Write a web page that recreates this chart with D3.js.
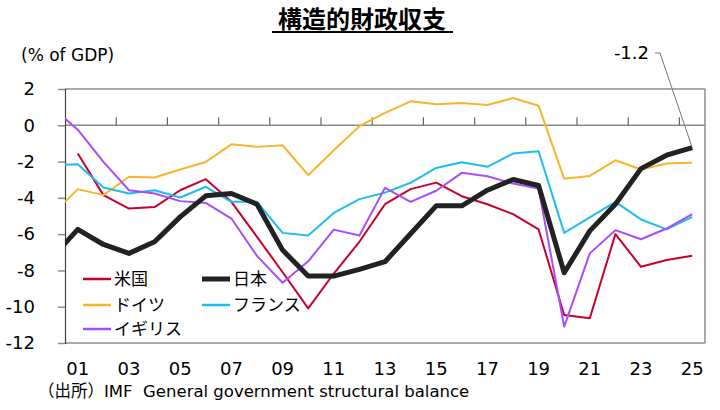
<!DOCTYPE html>
<html>
<head>
<meta charset="utf-8">
<script src="https://cdn.jsdelivr.net/npm/d3@7"></script>
<style>
  body { margin: 0; background: #fff; }
  svg { font-family: "DejaVu Sans", "Noto Sans CJK JP", sans-serif; }
</style>
</head>
<body>
<div class="chart"></div>
<script>
// data (year 2000 only feeds the clipped left edge)
const years = d3.range(2000, 2026);
const usa = [null, -1.56, -3.85, -4.59, -4.51, -3.58, -2.97, -4.22, -6.15, -8.1, -10.09, -8.17, -6.42,
  -4.35, -3.52, -3.16, -3.91, -4.35, -4.9, -5.74, -10.46, -10.64, -6.0, -7.8, -7.43, -7.19];
const japan = [-7.28, -5.74, -6.57, -7.06, -6.42, -5.05, -3.89, -3.76, -4.35, -6.88, -8.31, -8.31, -7.94,
  -7.52, -5.98, -4.44, -4.44, -3.58, -2.99, -3.32, -8.13, -5.82, -4.35, -2.39, -1.65, -1.23];
const germany = [-4.92, -3.52, -3.85, -2.84, -2.88, -2.44, -2.02, -1.05, -1.19, -1.1, -2.75, -1.38, -0.05,
  0.68, 1.32, 1.16, 1.23, 1.12, 1.5, 1.08, -2.95, -2.79, -1.93, -2.44, -2.11, -2.07];
const france = [-2.19, -2.15, -3.43, -3.76, -3.58, -3.98, -3.39, -4.22, -4.22, -5.93, -6.07, -4.83, -4.07,
  -3.71, -3.17, -2.35, -2.04, -2.29, -1.56, -1.43, -5.93, -5.08, -4.22, -5.19, -5.74, -5.05];
const uk = [0.98, -0.24, -2.02, -3.58, -3.76, -4.18, -4.28, -5.14, -7.2, -8.68, -7.5, -5.75, -6.08,
  -3.45, -4.22, -3.61, -2.62, -2.81, -3.21, -3.49, -11.1, -7.06, -5.78, -6.28, -5.69, -4.9];

const xLabels = ["01", "03", "05", "07", "09", "11", "13", "15", "17", "19", "21", "23", "25"];
const yTicks = [2, 0, -2, -4, -6, -8, -10, -12];

const series = [
  {name: "米国", values: usa, color: "#c8002d", width: 2},
  {name: "ドイツ", values: germany, color: "#f7b52c", width: 2},
  {name: "フランス", values: france, color: "#1ebcf0", width: 2},
  {name: "イギリス", values: uk, color: "#a64dff", width: 2},
  {name: "日本", values: japan, color: "#222222", width: 5}
];
const legendOrder = ["米国", "日本", "ドイツ", "フランス", "イギリス"];

const W = 720, H = 410;
const margin = {left: 65, right: 705, top: 89, bottom: 343};

const svg = d3.select(".chart").append("svg")
  .attr("width", W).attr("height", H);

const x = d3.scaleLinear().domain([2000.5, 2025.5]).range([margin.left, margin.right]);
const y = d3.scaleLinear().domain([-12, 2]).range([margin.bottom, margin.top]);

// title
svg.append("text")
  .attr("x", 362).attr("y", 28)
  .attr("text-anchor", "middle")
  .style("font-family", "'Noto Sans CJK JP', sans-serif")
  .style("font-size", "24px").style("font-weight", "bold")
  .text("構造的財政収支");
svg.append("line")
  .attr("x1", 272).attr("x2", 453).attr("y1", 32).attr("y2", 32)
  .attr("stroke", "#000").attr("stroke-width", 2);

svg.append("text")
  .attr("x", 21).attr("y", 61)
  .style("font-size", "17px")
  .text("(% of GDP)");

// frame and grid
const gr = svg.append("g");
gr.append("line").attr("x1", margin.left).attr("x2", margin.right).attr("y1", y(2)).attr("y2", y(2))
  .attr("stroke", "#8c8c8c").attr("stroke-width", 1.5);
gr.append("line").attr("x1", margin.right).attr("x2", margin.right).attr("y1", y(2)).attr("y2", y(-12))
  .attr("stroke", "#8c8c8c").attr("stroke-width", 1.5);
gr.append("line").attr("x1", margin.left).attr("x2", margin.right).attr("y1", y(0)).attr("y2", y(0))
  .attr("stroke", "#8c8c8c").attr("stroke-width", 1.5);
gr.append("line").attr("x1", margin.left).attr("x2", margin.right).attr("y1", y(-12)).attr("y2", y(-12))
  .attr("stroke", "#8c8c8c").attr("stroke-width", 1.5);

// tick marks on the zero line
gr.selectAll(".xt").data(d3.range(2002.5, 2025, 2)).join("line")
  .attr("x1", d => x(d)).attr("x2", d => x(d))
  .attr("y1", y(0)).attr("y2", y(0) - 8)
  .attr("stroke", "#666").attr("stroke-width", 1.2);

const yAxis = d3.axisLeft(y).tickValues(yTicks).tickSize(7).tickPadding(23)
  .tickFormat(d => String(d).replace("−", "-"));
const yAxGr = svg.append("g").attr("transform", `translate(${margin.left},0)`).call(yAxis);
yAxGr.select(".domain").attr("stroke", "#444").attr("stroke-width", 1.2);
yAxGr.selectAll(".tick line").attr("stroke", "#8c8c8c").attr("stroke-width", 1.5);
yAxGr.selectAll(".tick text")
  .style("font-size", "18px").style("font-family", "'DejaVu Sans', sans-serif")
  .attr("fill", "#000");

// x labels
svg.selectAll(".xl").data(xLabels).join("text")
  .attr("x", d => x(2000 + (+d)))
  .attr("y", 375)
  .attr("text-anchor", "middle")
  .style("font-size", "18px")
  .text(d => d);

// lines
svg.append("clipPath").attr("id", "clip").append("rect")
  .attr("x", margin.left).attr("y", 0).attr("width", margin.right - margin.left).attr("height", H);

const line = d3.line()
  .defined(d => d[1] != null)
  .x(d => x(d[0])).y(d => y(d[1]));

const lines = svg.append("g").attr("clip-path", "url(#clip)");
series.forEach(s => {
  lines.append("path")
    .datum(years.map((yr, i) => [yr, s.values[i]]))
    .attr("d", line)
    .attr("fill", "none")
    .attr("stroke", s.color)
    .attr("stroke-width", s.width)
    .attr("stroke-linejoin", "round");
});

// leader label for Japan's last value
const lastJ = japan[japan.length - 1];
svg.append("polyline")
  .attr("points", `655,53 660,53 ${x(2025)},${y(lastJ)}`)
  .attr("fill", "none").attr("stroke", "#777").attr("stroke-width", 1);
svg.append("text")
  .attr("x", 649).attr("y", 59)
  .attr("text-anchor", "end")
  .style("font-size", "18px")
  .text(lastJ.toFixed(1));

// legend
const legPos = [[83, 279], [202, 279], [83, 305], [202, 305], [83, 329]];
legendOrder.forEach((name, i) => {
  const s = series.find(d => d.name === name);
  const [lx, ly] = legPos[i];
  svg.append("line").attr("x1", lx).attr("x2", lx + 28).attr("y1", ly).attr("y2", ly)
    .attr("stroke", s.color).attr("stroke-width", s.width === 5 ? 5 : 2.5);
  svg.append("text").attr("x", lx + 31).attr("y", ly + 6)
    .style("font-family", "'Noto Sans CJK JP', sans-serif")
    .style("font-size", "17px")
    .text(name);
});

// source
svg.append("text")
  .attr("x", 38).attr("y", 397)
  .style("font-size", "16.5px")
  .style("white-space", "pre")
  .text("（出所）IMF  General government structural balance");
</script>
</body>
</html>
